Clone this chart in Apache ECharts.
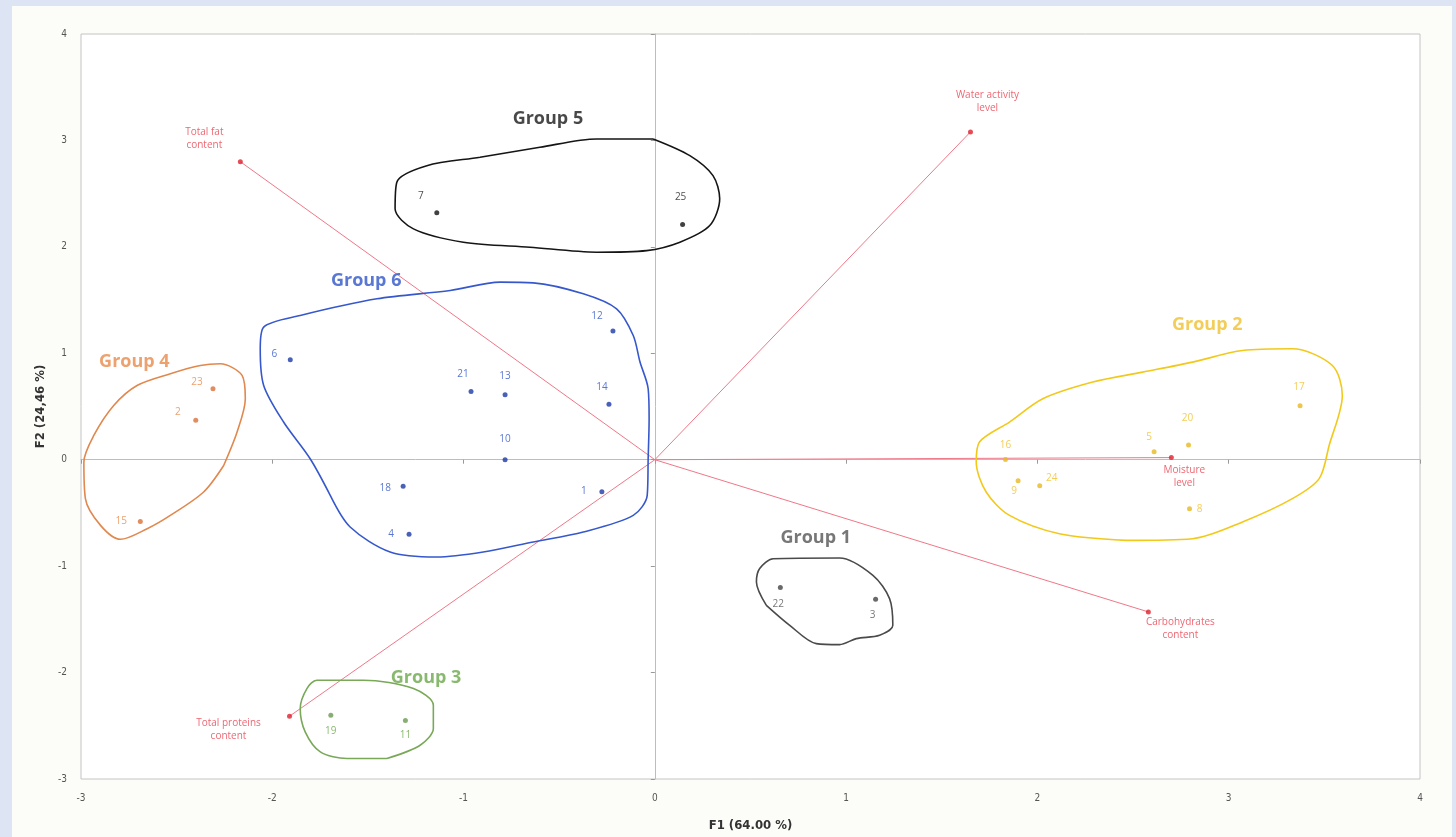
<!DOCTYPE html>
<html>
<head>
<meta charset="utf-8">
<script src="https://cdn.jsdelivr.net/npm/echarts@6/dist/echarts.min.js"></script>
<style>
  html, body { margin: 0; padding: 0; width: 1456px; height: 837px; background: #dde5f5; overflow: hidden; }
  #slide { position: absolute; left: 12px; top: 6px; width: 1440px; height: 831px; background: #fcfcf8; }
  #chart { position: absolute; left: 0; top: 0; width: 1456px; height: 837px; }
</style>
</head>
<body>
<div id="slide"></div>
<div id="chart"></div>
<script>
// observations (F1, F2) per group
var pointNames = {
    g1: ['22', '3'],
    g2: ['17', '20', '5', '16', '9', '24', '8'],
    g3: ['19', '11'],
    g4: ['23', '2', '15'],
    g5: ['7', '25'],
    g6: ['6', '21', '13', '12', '14', '10', '18', '4', '1']
}
var pointF1 = {
    g1: [0.656, 1.154],
    g2: [3.373, 2.79, 2.61, 1.833, 1.899, 2.012, 2.795],
    g3: [-1.694, -1.304],
    g4: [-2.31, -2.40, -2.69],
    g5: [-1.14, 0.145],
    g6: [-1.906, -0.961, -0.783, -0.219, -0.240, -0.783, -1.316, -1.285, -0.277]
}
var pointF2 = {
    g1: [-1.20, -1.31],
    g2: [0.507, 0.138, 0.075, 0.003, -0.197, -0.244, -0.46],
    g3: [-2.40, -2.45],
    g4: [0.667, 0.37, -0.58],
    g5: [2.32, 2.21],
    g6: [0.94, 0.64, 0.61, 1.21, 0.52, 0.0, -0.25, -0.70, -0.30]
}

// variables (loadings)
var varNames = ['Total fat\ncontent', 'Water activity\nlevel', 'Moisture\nlevel', 'Carbohydrates\ncontent', 'Total proteins\ncontent']
var varF1 = [-2.167, 1.65, 2.70, 2.58, -1.91]
var varF2 = [2.80, 3.08, 0.02, -1.43, -2.41]

// hand-drawn group outlines
var outline = {
    g1: [[0.618, -0.930], [0.966, -0.923], [1.140, -1.086], [1.227, -1.305], [1.244, -1.556], [1.175, -1.650],
         [1.053, -1.681], [0.966, -1.737], [0.844, -1.728], [0.705, -1.556], [0.583, -1.368], [0.531, -1.148], [0.548, -1.023]],
    g2: [[3.333, 1.042], [3.542, 0.885], [3.594, 0.604], [3.525, 0.134], [3.473, -0.178], [3.333, -0.366],
         [3.072, -0.585], [2.811, -0.742], [2.463, -0.758], [2.115, -0.695], [1.854, -0.523], [1.732, -0.303],
         [1.680, -0.022], [1.697, 0.166], [1.854, 0.354], [2.028, 0.573], [2.289, 0.730], [2.550, 0.823],
         [2.811, 0.917], [3.072, 1.026]],
    g3: [[-1.767, -2.072], [-1.523, -2.072], [-1.262, -2.150], [-1.158, -2.307], [-1.158, -2.526], [-1.227, -2.683],
         [-1.401, -2.808], [-1.610, -2.808], [-1.749, -2.745], [-1.828, -2.557], [-1.854, -2.338], [-1.819, -2.150]],
    g4: [[-2.272, 0.901], [-2.158, 0.792], [-2.141, 0.573], [-2.184, 0.260], [-2.254, -0.054], [-2.359, -0.303],
         [-2.533, -0.523], [-2.654, -0.648], [-2.794, -0.748], [-2.898, -0.617], [-2.977, -0.366], [-2.985, -0.022],
         [-2.933, 0.228], [-2.829, 0.510], [-2.707, 0.698], [-2.533, 0.808], [-2.376, 0.885]],
    g5: [[-0.009, 3.014], [0.183, 2.857], [0.304, 2.669], [0.339, 2.451], [0.287, 2.200], [0.131, 2.044],
         [-0.043, 1.965], [-0.304, 1.950], [-0.653, 1.997], [-1.001, 2.044], [-1.262, 2.169], [-1.358, 2.357],
         [-1.349, 2.608], [-1.192, 2.763], [-0.914, 2.842], [-0.601, 2.936], [-0.304, 3.014]],
    g6: [[-2.045, 1.246], [-1.854, 1.355], [-1.453, 1.512], [-1.070, 1.590], [-0.809, 1.669], [-0.636, 1.662],
         [-0.374, 1.559], [-0.200, 1.418], [-0.113, 1.167], [-0.078, 0.920], [-0.035, 0.667], [-0.030, 0.385],
         [-0.035, 0.009], [-0.040, -0.335], [-0.113, -0.523], [-0.374, -0.679], [-0.636, -0.773], [-0.897, -0.867],
         [-1.140, -0.914], [-1.384, -0.867], [-1.593, -0.632], [-1.697, -0.335], [-1.802, 0.009], [-1.941, 0.354],
         [-2.045, 0.698], [-2.063, 1.042]]
}
// where each outline path starts (a flat stretch, so the closing seam doesn't show)
var outlineStart = { g1: 10, g2: 8, g3: 6, g4: 4, g5: 0, g6: 21 }

var groupKeys = ['g1', 'g2', 'g3', 'g4', 'g5', 'g6']
var groupTitles = ['Group 1', 'Group 2', 'Group 3', 'Group 4', 'Group 5', 'Group 6']
var groupTitleAt = [[0.841, -0.732], [2.888, 1.268], [-1.196, -2.047], [-2.721, 0.92], [-0.559, 3.20], [-1.509, 1.68]]

// styling
var outlineColor = { g1: '#4a4a4a', g2: '#f2c91a', g3: '#78a858', g4: '#e0884e', g5: '#151515', g6: '#3658cc' }
var dotColor = { g1: '#444', g2: '#e8b820', g3: '#6a9a50', g4: '#d87038', g5: '#111', g6: '#1c3aa8' }
var textColor = { g1: '#555', g2: '#f0c030', g3: '#6aa84a', g4: '#e8894a', g5: '#1a1a1a', g6: '#2f55c8' }
var labelOffset = {
    '6': [-16, -6], '21': [-8, -17], '13': [0, -19], '12': [-16, -15], '14': [-7, -17], '10': [0, -21],
    '18': [-18, 2], '4': [-18, 0], '1': [-18, 0], '23': [-16, -7], '2': [-18, -8], '15': [-19, 0],
    '17': [-1, -19], '20': [-1, -27], '5': [-5, -15], '16': [0, -14], '9': [-4, 10], '24': [12, -8], '8': [10, 0],
    '7': [-16, -17], '25': [-2, -27], '22': [-2, 17], '3': [-3, 16], '19': [0, 16], '11': [0, 15]
}
var varLabelOffset = [[-36, -23], [17, -30], [13, 19], [32, 17], [-61, 13]]
var redLine = '#f07888'
var redDot = '#e0202c'
var axisFont = "'DejaVu Sans Condensed', 'Liberation Sans', sans-serif"

var myChart = echarts.init(document.getElementById('chart'))

var series = []

// variable vectors
varNames.forEach(function (n, i) {
    series.push({
        type: 'line',
        data: [[0, 0], [varF1[i], varF2[i]]],
        showSymbol: false,
        silent: true,
        z: 1,
        lineStyle: { color: redLine, width: 1 }
    })
})
series.push({
    type: 'scatter',
    symbolSize: 5,
    z: 4,
    itemStyle: { color: redDot },
    data: varNames.map(function (n, i) {
        return {
            name: n,
            value: [varF1[i], varF2[i]],
            label: {
                show: true, position: 'inside', offset: varLabelOffset[i], formatter: n,
                color: '#e8404e', fontSize: 10, lineHeight: 13, fontFamily: 'Open Sans'
            }
        }
    })
})

// outlines, points and titles
groupKeys.forEach(function (g, gi) {
    var s = outlineStart[g]
    var path = outline[g].slice(s).concat(outline[g].slice(0, s))
    path.push(path[0])
    series.push({
        type: 'line',
        data: path,
        smooth: 0.3,
        showSymbol: false,
        silent: true,
        z: 2,
        lineStyle: { color: outlineColor[g], width: 1.6 }
    })
    series.push({
        type: 'scatter',
        symbolSize: 5,
        z: 3,
        itemStyle: { color: dotColor[g] },
        data: pointNames[g].map(function (n, i) {
            return {
                name: n,
                value: [pointF1[g][i], pointF2[g][i]],
                label: {
                    show: true, position: 'inside', offset: labelOffset[n], formatter: n,
                    color: textColor[g], fontSize: 10, fontFamily: 'Open Sans'
                }
            }
        })
    })
    series.push({
        type: 'scatter',
        symbolSize: 0,
        z: 5,
        data: [{
            value: groupTitleAt[gi],
            label: {
                show: true, position: 'inside', formatter: groupTitles[gi],
                color: textColor[g], fontSize: 18, fontWeight: 'bold', fontFamily: 'Open Sans'
            }
        }]
    })
})

var option = {
    animation: false,
    grid: {
        left: 81, right: 36, top: 34, bottom: 57,
        show: true, backgroundColor: '#ffffff', borderColor: '#c4c4c4', borderWidth: 1
    },
    xAxis: [{
        type: 'value', min: -3, max: 4, interval: 1,
        name: 'F1 (64.00 %)', nameLocation: 'middle', nameGap: 40,
        nameTextStyle: { fontFamily: axisFont, fontWeight: 'bold', fontSize: 13, color: '#333' },
        axisLine: { show: false }, axisTick: { show: false }, splitLine: { show: false },
        axisLabel: { margin: 14, fontSize: 10, color: '#555', fontFamily: axisFont }
    }, {
        type: 'value', min: -3, max: 4, interval: 1, position: 'bottom',
        axisLine: { show: true, onZero: true, onZeroAxisIndex: 0, lineStyle: { color: '#bdbdbd', width: 1 } },
        axisTick: { show: true, length: 4, lineStyle: { color: '#999' } },
        axisLabel: { show: false }, splitLine: { show: false }
    }],
    yAxis: [{
        type: 'value', min: -3, max: 4, interval: 1,
        name: 'F2 (24,46 %)', nameLocation: 'middle', nameGap: 33, nameRotate: 90,
        nameTextStyle: { fontFamily: axisFont, fontWeight: 'bold', fontSize: 13, color: '#333' },
        axisLine: { show: false }, axisTick: { show: false }, splitLine: { show: false },
        axisLabel: { margin: 14, fontSize: 10, color: '#555', fontFamily: axisFont }
    }, {
        type: 'value', min: -3, max: 4, interval: 1, position: 'left',
        axisLine: { show: true, onZero: true, onZeroAxisIndex: 0, lineStyle: { color: '#bdbdbd', width: 1 } },
        axisTick: { show: true, length: 4, lineStyle: { color: '#999' } },
        axisLabel: { show: false }, splitLine: { show: false }
    }],
    series: series
}

myChart.setOption(option)
</script>
</body>
</html>
